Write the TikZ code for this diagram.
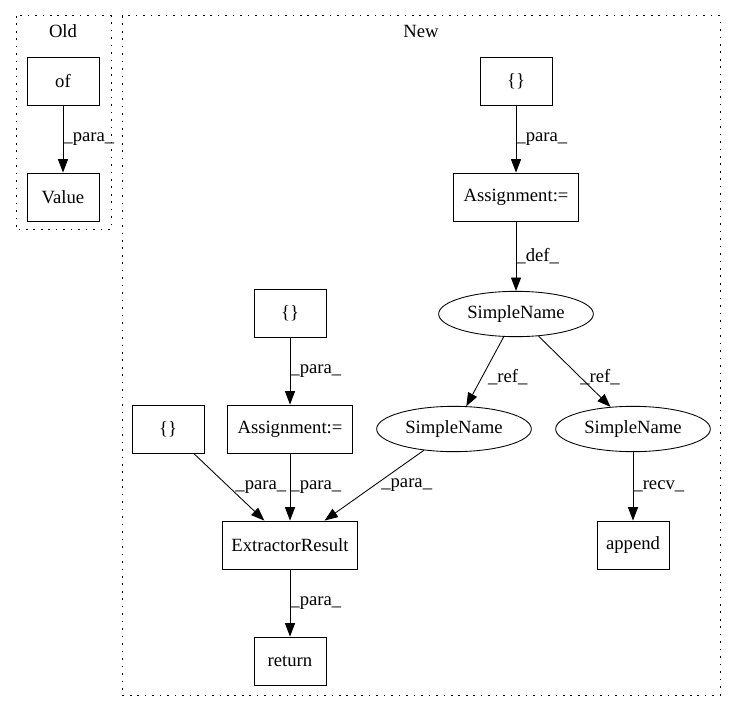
\documentclass[tikz,border=0pt]{standalone}
\usepackage{fontspec}
\setmainfont{Liberation Serif}
\newfontfamily\dotfont{Liberation Serif}
\usetikzlibrary{arrows.meta,shapes.geometric}

\begin{document}
\begin{tikzpicture}[x=0.75pt, y=-0.75pt, font=\dotfont\fontsize{14}{16}\selectfont,
  box/.style={draw, line width=0.65pt, minimum width=54pt, minimum height=36pt, inner sep=0pt},
  oval/.style={draw, ellipse, line width=0.65pt, minimum width=116pt, minimum height=34pt, inner sep=0pt},
  edge/.style={line width=0.65pt, -{Triangle[length=10pt, width=7.5pt]}},
  lbl/.style={anchor=west, inner sep=0pt},
  cluster/.style={line width=0.75pt, dash pattern=on 1.2pt off 4.4pt}]

\useasboundingbox (0,0) rectangle (737,712);

\draw[cluster] (16,16) rectangle (111,230);
\draw[cluster] (122,16) rectangle (720,695);
\node (oldlabel) at (63,31) {Old};
\node (newlabel) at (421,31) {New};

\node[box] (of) at (63,81) {of};
\node[box] (value) at (63,197) {Value};

\node[box] (topbraces) at (516,81) {\{\}};
\node[box, minimum width=94pt] (assigntop) at (516,197) {Assignment:=};
\node[oval] (nametop) at (516,314) {SimpleName};
\node[oval] (nameleft) at (454,429) {SimpleName};
\node[oval] (nameright) at (633,429) {SimpleName};
\node[box] (append) at (633,545) {append};

\node[box] (midbraces) at (290,313) {\{\}};
\node[box, minimum width=94pt] (assignleft) at (290,429) {Assignment:=};
\node[box] (leftbraces) at (168,429) {\{\}};
\node[box, minimum width=101pt] (result) at (290,545) {ExtractorResult};
\node[box] (return) at (290,661) {return};

\draw[edge] (of) -- (value) node[lbl, midway] (l1) {\_para\_};
\draw[edge] (topbraces) -- (assigntop) node[lbl, midway] (l2) {\_para\_};
\draw[edge] (assigntop) -- (nametop) node[lbl, midway] (l3) {\_def\_};
\draw[edge] (nametop) -- (nameleft) node[lbl, midway, xshift=2pt, yshift=-4pt] (l4) {\_ref\_};
\draw[edge] (nametop) -- (nameright) node[lbl, midway, xshift=4pt, yshift=-4pt] (l5) {\_ref\_};
\draw[edge] (nameright) -- (append) node[lbl, midway] (l6) {\_recv\_};
\draw[edge] (midbraces) -- (assignleft) node[lbl, midway] (l7) {\_para\_};
\draw[edge] (leftbraces) -- (result) node[lbl, midway, xshift=4.5pt] (l8) {\_para\_};
\draw[edge] (assignleft) -- (result) node[lbl, midway] (l9) {\_para\_};
\draw[edge] (nameleft) -- (result) node[lbl, midway, xshift=5pt] (l10) {\_para\_};
\draw[edge] (result) -- (return) node[lbl, midway] (l11) {\_para\_};

\end{tikzpicture}
\end{document}
